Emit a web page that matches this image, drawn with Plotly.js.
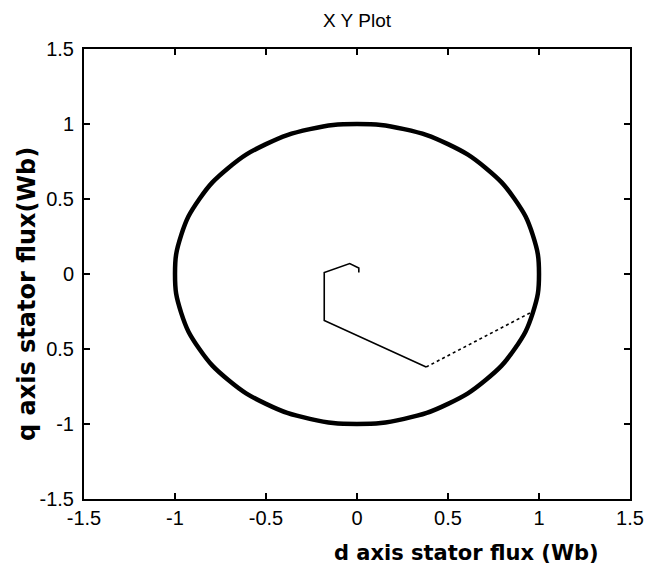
<!DOCTYPE html>
<html>
<head>
<meta charset="utf-8">
<script src="https://cdn.plot.ly/plotly-3.0.1.min.js"></script>
<style>
  html, body { margin: 0; padding: 0; background: #fff; }
  #plot { width: 646px; height: 570px; }
</style>
</head>
<body>
<div id="plot"></div>
<script>
// Steady-state stator flux locus (d/q components, Wb), sampled every 15 degrees
const circleD = [1.000, 0.966, 0.866, 0.707, 0.500, 0.259, 0.000, -0.259, -0.500, -0.707, -0.866, -0.966,
                 -1.000, -0.966, -0.866, -0.707, -0.500, -0.259, 0.000, 0.259, 0.500, 0.707, 0.866, 0.966, 1.000];
const circleQ = [0.000, 0.259, 0.500, 0.707, 0.866, 0.966, 1.000, 0.966, 0.866, 0.707, 0.500, 0.259,
                 0.000, -0.259, -0.500, -0.707, -0.866, -0.966, -1.000, -0.966, -0.866, -0.707, -0.500, -0.259, 0.000];

// Start-up transient of the flux vector
const startD = [0.01, 0.01, -0.04, -0.18, -0.18, 0.38];
const startQ = [0.01, 0.04, 0.07, 0.01, -0.31, -0.62];

// Final jump of the transient onto the circle
const jumpD = [0.38, 0.95];
const jumpQ = [-0.62, -0.26];

// Axis ticks
const xTickVals = [-1.5, -1, -0.5, 0, 0.5, 1, 1.5];
const xTickText = ['-1.5', '-1', '-0.5', '0', '0.5', '1', '1.5'];
const yTickVals = [-1.5, -1, -0.5, 0, 0.5, 1, 1.5];
const yTickText = ['-1.5', '-1', '0.5', '0', '0.5', '1', '1.5'];

const plain = '"Liberation Sans", Arial, sans-serif';
const bold = '"DejaVu Sans", Verdana, sans-serif';

const traces = [
  {
    x: circleD, y: circleQ, type: 'scatter', mode: 'lines',
    line: { color: '#000', width: 4.5, shape: 'spline', smoothing: 1.3 },
    hoverinfo: 'skip'
  },
  {
    x: startD, y: startQ, type: 'scatter', mode: 'lines',
    line: { color: '#000', width: 1.6 },
    hoverinfo: 'skip'
  },
  {
    x: jumpD, y: jumpQ, type: 'scatter', mode: 'lines',
    line: { color: '#000', width: 1.6, dash: 'dot' },
    hoverinfo: 'skip'
  }
];

const axisCommon = {
  showgrid: false, zeroline: false,
  showline: true, linecolor: '#000', linewidth: 2, mirror: 'ticks',
  ticks: 'inside', ticklen: 6, tickwidth: 2, tickcolor: '#000',
  tickfont: { family: plain, size: 20, color: '#000' },
  fixedrange: true
};

const layout = {
  width: 646, height: 570,
  margin: { l: 84, r: 16, t: 49, b: 71 },
  paper_bgcolor: '#fff', plot_bgcolor: '#fff',
  showlegend: false,
  title: {
    text: 'X Y Plot',
    font: { family: plain, size: 19, color: '#000' },
    x: 0.5, xref: 'paper', xanchor: 'center',
    y: 0.965, yanchor: 'middle'
  },
  xaxis: Object.assign({}, axisCommon, {
    range: [-1.5, 1.5], tickmode: 'array', tickvals: xTickVals, ticktext: xTickText,
    ticklabelstandoff: 0
  }),
  yaxis: Object.assign({}, axisCommon, {
    range: [-1.5, 1.5], tickmode: 'array', tickvals: yTickVals, ticktext: yTickText,
    ticklabelstandoff: 4
  }),
  annotations: [
    {
      text: 'd axis stator flux (Wb)', showarrow: false,
      xref: 'paper', yref: 'paper', x: 0.70, y: -0.12,
      xanchor: 'center', yanchor: 'middle',
      font: { family: bold, size: 21, color: '#000', weight: 'bold' }
    },
    {
      text: 'q axis stator flux(Wb)', showarrow: false, textangle: -90,
      xref: 'paper', yref: 'paper', x: -0.104, y: 0.456,
      xanchor: 'center', yanchor: 'middle',
      font: { family: bold, size: 24, color: '#000', weight: 'bold' }
    }
  ]
};

Plotly.newPlot('plot', traces, layout, { displayModeBar: false, staticPlot: true });
</script>
</body>
</html>
